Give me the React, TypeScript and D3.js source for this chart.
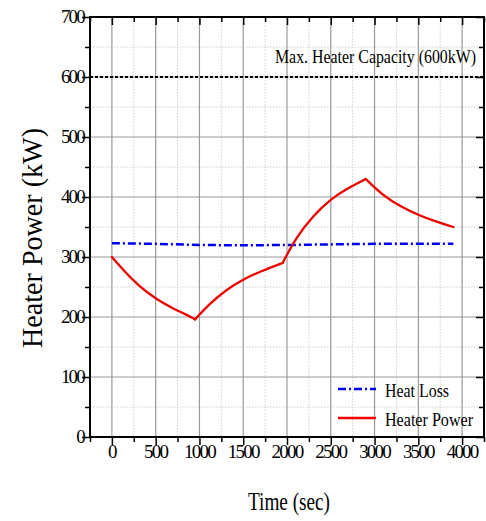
import React, { useEffect, useRef } from "react";
import * as d3 from "d3";

// Heater Power curve (kW) vs time (sec)
const powerTimes = [0, 150, 300, 500, 700, 850, 950, 1100, 1300, 1500, 1700, 1950, 2100, 2300, 2500, 2700, 2900, 3100, 3300, 3500, 3700, 3900];
const powerValues = [300, 275, 253, 230, 214, 204, 196, 220, 245, 263, 276, 290, 332, 369, 397, 415, 430, 402, 384, 370, 359, 350];
// times where the heater power curve changes regime (sharp corners)
const powerKinks = [950, 1950, 2900];

// Heat Loss curve (kW)
const lossTimes = [0, 500, 1000, 1500, 2000, 2500, 3000, 3500, 3900];
const lossValues = [323, 322, 320, 319.5, 320, 321, 322, 322, 322];

const xTicks = [0, 500, 1000, 1500, 2000, 2500, 3000, 3500, 4000];
const yTicks = [0, 100, 200, 300, 400, 500, 600, 700];
const maxCapacity = 600;

const W = 486;
const H = 521;
const FONT = "'Liberation Serif', 'Times New Roman', serif";

const App = () => {
  const svgRef = useRef(null);

  useEffect(() => {
    const svg = d3.select(svgRef.current);
    svg.selectAll("*").remove();

    const left = 90, right = 484, top = 17, bottom = 437;

    const x = d3.scaleLinear().domain([-250, 4250]).range([left, right]);
    const y = d3.scaleLinear().domain([0, 700]).range([bottom, top]);

    const xMinor = d3.range(-250, 4251, 250).filter((d) => d % 500 !== 0);
    const yMinor = d3.range(50, 700, 100);

    // grid
    const grid = svg.append("g");
    grid.selectAll(".xm").data(xMinor).enter().append("line")
      .attr("x1", (d) => x(d)).attr("x2", (d) => x(d))
      .attr("y1", top).attr("y2", bottom)
      .attr("stroke", "#cfcfcf").attr("stroke-dasharray", "1.5,1.5");
    grid.selectAll(".ym").data(yMinor).enter().append("line")
      .attr("x1", left).attr("x2", right)
      .attr("y1", (d) => y(d)).attr("y2", (d) => y(d))
      .attr("stroke", "#cfcfcf").attr("stroke-dasharray", "1.5,1.5");
    grid.selectAll(".xM").data(xTicks).enter().append("line")
      .attr("x1", (d) => x(d)).attr("x2", (d) => x(d))
      .attr("y1", top).attr("y2", bottom)
      .attr("stroke", "#9a9a9a").attr("stroke-width", 1.2);
    grid.selectAll(".yM").data(yTicks.slice(1, -1)).enter().append("line")
      .attr("x1", left).attr("x2", right)
      .attr("y1", (d) => y(d)).attr("y2", (d) => y(d))
      .attr("stroke", "#9a9a9a").attr("stroke-width", 1.2);

    // axes: outer ticks left/bottom, inner ticks top/right
    const axisStyle = (g) => {
      g.select(".domain").remove();
      g.selectAll("line").attr("stroke", "#000").attr("stroke-width", 1.5);
    };
    const addAxis = (axis, transform) =>
      svg.append("g").attr("transform", transform).call(axis.tickFormat(() => "")).call(axisStyle);

    addAxis(d3.axisBottom(x).tickValues(xMinor).tickSize(5), `translate(0,${bottom})`);
    addAxis(d3.axisBottom(x).tickValues(xTicks).tickSize(8), `translate(0,${bottom})`);
    addAxis(d3.axisBottom(x).tickValues(xMinor).tickSize(5), `translate(0,${top})`);
    addAxis(d3.axisBottom(x).tickValues(xTicks).tickSize(8), `translate(0,${top})`);
    addAxis(d3.axisLeft(y).tickValues(yMinor).tickSize(5), `translate(${left},0)`);
    addAxis(d3.axisLeft(y).tickValues(yTicks).tickSize(8), `translate(${left},0)`);
    addAxis(d3.axisLeft(y).tickValues(yMinor).tickSize(5), `translate(${right},0)`);
    addAxis(d3.axisLeft(y).tickValues(yTicks).tickSize(8), `translate(${right},0)`);

    // frame
    svg.append("rect")
      .attr("x", left).attr("y", top)
      .attr("width", right - left).attr("height", bottom - top)
      .attr("fill", "none").attr("stroke", "#000").attr("stroke-width", 2);

    // tick labels
    svg.append("g").selectAll("text").data(xTicks).enter().append("text")
      .attr("x", (d) => x(d)).attr("y", 458)
      .attr("text-anchor", "middle")
      .attr("font-family", FONT).attr("font-size", 19)
      .attr("letter-spacing", -1.8)
      .text((d) => d);
    svg.append("g").selectAll("text").data(yTicks).enter().append("text")
      .attr("x", 84).attr("y", (d) => y(d) + 6)
      .attr("text-anchor", "end")
      .attr("font-family", FONT).attr("font-size", 19)
      .attr("letter-spacing", -1.8)
      .text((d) => d);

    // max capacity line
    svg.append("line")
      .attr("x1", left).attr("x2", right)
      .attr("y1", y(maxCapacity)).attr("y2", y(maxCapacity))
      .attr("stroke", "#000").attr("stroke-width", 2)
      .attr("stroke-dasharray", "3,2");
    svg.append("text")
      .attr("x", 275).attr("y", 63)
      .attr("font-family", FONT).attr("font-size", 19)
      .attr("textLength", 201).attr("lengthAdjust", "spacingAndGlyphs")
      .text("Max. Heater Capacity (600kW)");

    const line = d3.line().x((d) => x(d[0])).y((d) => y(d[1]));

    svg.append("path")
      .attr("d", line(lossTimes.map((t, i) => [t, lossValues[i]])))
      .attr("fill", "none").attr("stroke", "#0000ee").attr("stroke-width", 2.5)
      .attr("stroke-dasharray", "8,3,2,3");

    // heater power: smooth pieces between the corners
    const pts = powerTimes.map((t, i) => [t, powerValues[i]]);
    const bounds = [powerTimes[0], ...powerKinks, powerTimes[powerTimes.length - 1]];
    const smooth = d3.line().x((d) => x(d[0])).y((d) => y(d[1])).curve(d3.curveBasis);
    for (let i = 0; i < bounds.length - 1; i++) {
      const seg = pts.filter((p) => p[0] >= bounds[i] && p[0] <= bounds[i + 1]);
      svg.append("path")
        .attr("d", smooth(seg))
        .attr("fill", "none").attr("stroke", "#ee0000").attr("stroke-width", 2.3)
        .attr("stroke-linejoin", "round").attr("stroke-linecap", "round");
    }

    // legend
    const legend = [
      { label: "Heat Loss", color: "#0000ee", dash: "8,3,2,3", w: 2.5, len: 64 },
      { label: "Heater Power", color: "#ee0000", dash: null, w: 2.3, len: 88 },
    ];
    legend.forEach((l, i) => {
      const ly = 389 + i * 29;
      svg.append("line")
        .attr("x1", 338).attr("x2", 376).attr("y1", ly).attr("y2", ly)
        .attr("stroke", l.color).attr("stroke-width", l.w)
        .attr("stroke-dasharray", l.dash);
      svg.append("text")
        .attr("x", 385).attr("y", ly + 8)
        .attr("font-family", FONT).attr("font-size", 19)
        .attr("textLength", l.len).attr("lengthAdjust", "spacingAndGlyphs")
        .text(l.label);
    });

    // axis titles
    svg.append("text")
      .attr("x", 248).attr("y", 510)
      .attr("font-family", FONT).attr("font-size", 25)
      .attr("textLength", 82).attr("lengthAdjust", "spacingAndGlyphs")
      .text("Time (sec)");
    svg.append("text")
      .attr("transform", `translate(42,348) rotate(-90)`)
      .attr("font-family", FONT).attr("font-size", 30)
      .attr("textLength", 220).attr("lengthAdjust", "spacingAndGlyphs")
      .text("Heater Power (kW)");
  }, []);

  return (
    <svg ref={svgRef} width={W} height={H}
      style={{ position: "absolute", left: 0, top: 0, background: "#fff" }}></svg>
  );
};

export default App;
